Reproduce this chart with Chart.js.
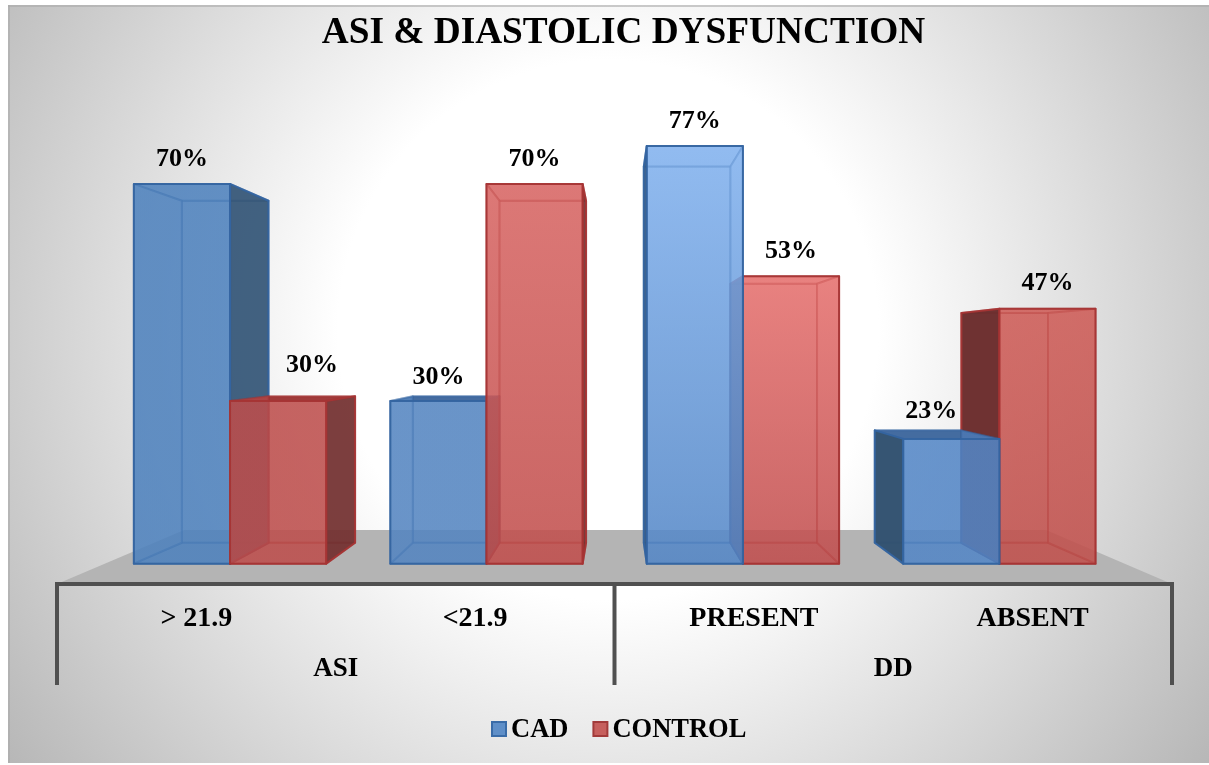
<!DOCTYPE html>
<html>
<head>
  <title>ASI & Diastolic Dysfunction</title>
  <script src="https://cdn.jsdelivr.net/npm/chart.js"></script>
  <style>
    body { margin: 0; background: #fff; }
    canvas { display: block; }
  </style>
</head>
<body>
  <canvas id="chart" width="1209" height="765"></canvas>

  <script>
    const categories = ["> 21.9", "<21.9", "PRESENT", "ABSENT"];
    const groups = ["ASI", "DD"];
    const cadValues = [70, 30, 77, 23];
    const controlValues = [30, 70, 53, 47];

    const SERIF = "'Liberation Serif', 'Times New Roman', serif";
    // perspective: vanishing point and depth of the bars behind the axis plane
    const VP = { x: 617, y: 353 };
    const S_FRONT = 0.92, S_BACK = 0.8286, S_FLOOR = 0.773;

    // top / bottom shade of each bar, series then category
    const shades = [
      [["77,129,189", "77,129,189"], ["83,132,192", "83,132,192"], ["129,177,238", "83,134,198"], ["83,134,198", "83,134,198"]],
      [["189,77,75", "189,77,75"], ["215,100,98", "192,77,75"], ["229,111,109", "192,77,77"], ["206,91,86", "192,79,75"]]
    ];
    const looks = [
      { edge: "52,100,160", dark: "50,80,110", top: "55,96,150" },
      { edge: "165,52,52", dark: "105,45,45", top: "150,45,45" }
    ];
    const darkAlpha = [0.82, 0.82, 0.82, 0.95];
    const labelNudge = [[[0, 0], [0, 1], [0, 0], [-20, -3]], [[34, -11], [0, 0], [0, 0], [0, 0]]];

    function project(x, y, s) {
      return [VP.x + s * (x - VP.x), VP.y + s * (y - VP.y)];
    }

    function face(ctx, pts, fill, stroke, lw) {
      ctx.beginPath();
      pts.forEach((p, i) => i ? ctx.lineTo(p[0], p[1]) : ctx.moveTo(p[0], p[1]));
      ctx.closePath();
      if (fill) { ctx.fillStyle = fill; ctx.fill(); }
      if (stroke) { ctx.strokeStyle = stroke; ctx.lineWidth = lw; ctx.stroke(); }
    }

    function drawBox(ctx, el, ds, cat) {
      const l = el.x - el.width / 2, r = el.x + el.width / 2;
      const t = el.y, b = el.base;
      const FTL = project(l, t, S_FRONT), FTR = project(r, t, S_FRONT);
      const FBL = project(l, b, S_FRONT), FBR = project(r, b, S_FRONT);
      const BTL = project(l, t, S_BACK), BTR = project(r, t, S_BACK);
      const BBL = project(l, b, S_BACK), BBR = project(r, b, S_BACK);

      const look = looks[ds];
      const grad = ctx.createLinearGradient(0, FTL[1], 0, FBL[1]);
      grad.addColorStop(0, `rgba(${shades[ds][cat][0]},0.64)`);
      grad.addColorStop(1, `rgba(${shades[ds][cat][1]},0.64)`);
      const inner = `rgba(${look.edge},0.4)`;
      const outer = `rgba(${look.edge},0.95)`;
      const dark = `rgba(${look.dark},${darkAlpha[cat]})`;

      ctx.lineJoin = "round";
      face(ctx, [BTL, BTR, BBR, BBL], grad, inner, 2);
      face(ctx, [FBL, FBR, BBR, BBL], grad, inner, 2);
      face(ctx, [FTL, FTR, BTR, BTL], BTL[1] < FTL[1] ? `rgba(${look.top},0.85)` : grad, inner, 2);
      face(ctx, [FTL, BTL, BBL, FBL], BTL[0] < FTL[0] ? dark : grad, BTL[0] < FTL[0] ? outer : inner, 2);
      face(ctx, [FTR, BTR, BBR, FBR], BTR[0] > FTR[0] ? dark : grad, BTR[0] > FTR[0] ? outer : inner, 2);
      face(ctx, [FTL, FTR, FBR, FBL], grad, outer, 2);
    }

    const sceneBackdrop = {
      id: "sceneBackdrop",
      afterLayout(chart) {
        // title sits a little right of the canvas centre in the original
        chart.titleBlock.left += 18;
      },
      beforeDraw(chart) {
        const { ctx, chartArea: a } = chart;
        const bg = ctx.createRadialGradient(608, 330, 60, 608, 330, 760);
        bg.addColorStop(0, "#ffffff");
        bg.addColorStop(0.3, "#ffffff");
        bg.addColorStop(1, "#b4b4b4");
        ctx.fillStyle = bg;
        ctx.fillRect(8, 5, 1201, 758);
        ctx.fillStyle = "rgba(170,170,170,0.6)";
        ctx.fillRect(8, 5, 1201, 2);
        ctx.fillRect(8, 5, 2, 758);
        const b = a.bottom;
        face(ctx, [[a.left, b + 2], [a.right, b + 2], project(a.right, b, S_FLOOR), project(a.left, b, S_FLOOR)], "#b4b4b4");
      }
    };

    const boxes3d = {
      id: "boxes3d",
      beforeDatasetsDraw(chart) {
        const { ctx } = chart;
        ctx.save();
        categories.forEach((c, i) => {
          const el0 = chart.getDatasetMeta(0).data[i];
          // bars right of the vanishing point are painted back to front the other way
          const order = el0.x > VP.x ? [1, 0] : [0, 1];
          order.forEach(ds => drawBox(ctx, chart.getDatasetMeta(ds).data[i], ds, i));
        });
        ctx.restore();
        return false;
      },
      afterDraw(chart) {
        const { ctx, chartArea: a, scales } = chart;
        ctx.save();
        ctx.fillStyle = "#000";
        ctx.textAlign = "center";
        ctx.textBaseline = "middle";

        // value labels
        ctx.font = `bold 26px ${SERIF}`;
        chart.data.datasets.forEach((d, ds) => {
          chart.getDatasetMeta(ds).data.forEach((el, i) => {
            const p = project(el.x, el.y, S_FRONT);
            const n = labelNudge[ds][i];
            ctx.fillText(d.data[i] + "%", p[0] + n[0], p[1] - 25 + n[1]);
          });
        });

        // axis line and group brackets under the category labels
        const mid = (scales.x.getPixelForTick(1) + scales.x.getPixelForTick(2)) / 2;
        ctx.strokeStyle = "#505050";
        ctx.lineWidth = 4;
        ctx.beginPath();
        ctx.moveTo(a.left - 2, a.bottom + 2);
        ctx.lineTo(a.right + 2, a.bottom + 2);
        ctx.stroke();
        [a.left, mid, a.right].forEach(x => {
          ctx.beginPath();
          ctx.moveTo(x, a.bottom + 2);
          ctx.lineTo(x, 685);
          ctx.stroke();
        });
        ctx.font = `bold 27px ${SERIF}`;
        ctx.fillText(groups[0], (a.left + mid) / 2, 669);
        ctx.fillText(groups[1], (mid + a.right) / 2, 669);

        // legend
        let x = 491;
        ctx.textAlign = "left";
        ctx.font = `bold 26.5px ${SERIF}`;
        chart.data.datasets.forEach((d, ds) => {
          ctx.fillStyle = d.backgroundColor;
          ctx.strokeStyle = d.borderColor;
          ctx.lineWidth = 2;
          ctx.fillRect(x + 1, 722, 14, 14);
          ctx.strokeRect(x + 1, 722, 14, 14);
          ctx.fillStyle = "#000";
          ctx.fillText(d.label, x + 20, 730);
          x += 20 + ctx.measureText(d.label).width + 24;
        });
        ctx.restore();
      }
    };

    new Chart(document.getElementById("chart"), {
      type: "bar",
      data: {
        labels: categories,
        datasets: [
          { label: "CAD", data: cadValues, backgroundColor: "#5f8fc8", borderColor: "#3a6ca8" },
          { label: "CONTROL", data: controlValues, backgroundColor: "#c65f5d", borderColor: "#a23a3a" }
        ]
      },
      plugins: [sceneBackdrop, boxes3d],
      options: {
        responsive: false,
        animation: false,
        layout: { padding: { left: 57, right: 37, top: 11, bottom: 20 } },
        datasets: { bar: { categoryPercentage: 0.75, barPercentage: 1 } },
        scales: {
          x: {
            grid: { display: false },
            border: { display: false },
            ticks: { color: "#000", padding: 12, maxRotation: 0, font: { family: SERIF, size: 28, weight: "bold" } },
            afterFit(axis) { axis.height = 163; }
          },
          y: { display: false, min: 0, max: 80 }
        },
        plugins: {
          legend: { display: false },
          tooltip: { enabled: false },
          title: {
            display: true,
            text: "ASI & DIASTOLIC DYSFUNCTION",
            color: "#000",
            font: { family: SERIF, size: 37.3, weight: "bold" },
            padding: { top: 0, bottom: 54.5 }
          }
        }
      }
    });
  </script>
</body>
</html>
